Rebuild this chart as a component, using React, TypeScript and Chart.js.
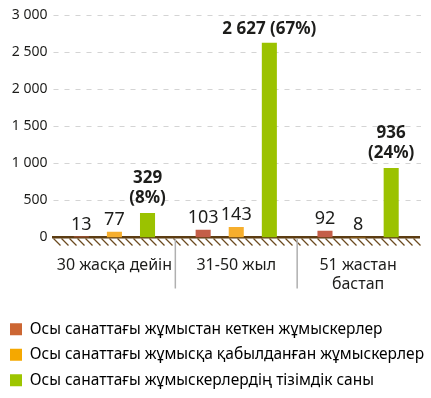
import React, { useEffect, useRef } from "react";
import { Chart, registerables } from "chart.js";

Chart.register(...registerables);

const categories: (string | string[])[] = ["30 жасқа дейін", "31-50 жыл", ["51 жастан", "бастап"]];
const seriesNames = [
  "Осы санаттағы жұмыстан кеткен жұмыскерлер",
  "Осы санаттағы жұмысқа қабылданған жұмыскерлер",
  "Осы санаттағы жұмыскерлердің тізімдік саны",
];
const leftValues = [13, 103, 92];
const hiredValues = [77, 143, 8];
const totalValues = [329, 2627, 936];
const totalShares = ["8%", "67%", "24%"];
const barColors = ["#c45e48", "#f6ae2d", "#9bc200"];
const legendColors = ["#cc6633", "#f5a800", "#9dc500"];
const yTicks = [0, 500, 1000, 1500, 2000, 2500, 3000];

const fmt = (v: number) => {
  const s = String(Math.round(v));
  return s.replace(/\B(?=(\d{3})+(?!\d))/g, " ");
};

const FONT = "'Noto Sans', 'Open Sans', sans-serif";
const TEXT = "#1d1d1b";

const decorPlugin = {
  id: "decor",
  beforeDatasetsDraw(chart: any) {
    const { ctx, chartArea, scales } = chart;
    const x = scales.x;
    const y = scales.y;
    const bottom = chartArea.bottom;
    ctx.save();
    // dashed horizontal grid
    ctx.strokeStyle = "#d4d4d4";
    ctx.lineWidth = 1.2;
    ctx.setLineDash([5, 6]);
    ctx.beginPath();
    yTicks.forEach((v) => {
      if (v === 0) return;
      const py = Math.round(y.getPixelForValue(v)) + 0.5;
      ctx.moveTo(chartArea.left, py);
      ctx.lineTo(chartArea.right + 2, py);
    });
    ctx.stroke();
    ctx.setLineDash([]);
    // hatch below the zero line
    ctx.strokeStyle = "#6b4a1f";
    ctx.lineWidth = 1.3;
    ctx.beginPath();
    for (let px = chartArea.left; px < chartArea.right + 2; px += 8) {
      ctx.moveTo(px, bottom + 1);
      ctx.lineTo(px + 7, bottom + 8);
    }
    ctx.stroke();
    // category dividers
    ctx.strokeStyle = "#b0b0b0";
    ctx.lineWidth = 1.5;
    ctx.beginPath();
    for (let i = 0; i < categories.length - 1; i++) {
      const mid = (x.getPixelForValue(i) + x.getPixelForValue(i + 1)) / 2;
      ctx.moveTo(mid, bottom + 1);
      ctx.lineTo(mid, bottom + 51);
    }
    ctx.stroke();
    ctx.restore();
  },
  afterDatasetsDraw(chart: any) {
    const { ctx } = chart;
    ctx.save();
    ctx.fillStyle = TEXT;
    ctx.textAlign = "center";
    ctx.textBaseline = "alphabetic";
    [0, 1].forEach((di) => {
      const meta = chart.getDatasetMeta(di);
      const data = chart.data.datasets[di].data as number[];
      meta.data.forEach((bar: any, i: number) => {
        ctx.font = `400 18px ${FONT}`;
        ctx.fillText(fmt(data[i]), bar.x, bar.y - 7);
      });
    });
    const meta = chart.getDatasetMeta(2);
    meta.data.forEach((bar: any, i: number) => {
      ctx.font = `700 17px ${FONT}`;
      const v = fmt(totalValues[i]);
      const p = `(${totalShares[i]})`;
      if (i === 1) {
        ctx.fillText(`${v} ${p}`, bar.x, bar.y - 9);
      } else {
        ctx.fillText(p, bar.x, bar.y - 10);
        ctx.fillText(v, bar.x, bar.y - 30);
      }
    });
    ctx.restore();
  },
};

export default function App() {
  const ref = useRef<HTMLCanvasElement>(null);
  useEffect(() => {
    const valuesList = [leftValues, hiredValues, totalValues];
    const chart = new Chart(ref.current!, {
      type: "bar",
      data: {
        labels: categories,
        datasets: valuesList.map((vals, i) => ({
          label: seriesNames[i],
          data: vals,
          backgroundColor: barColors[i],
          borderWidth: 0,
          categoryPercentage: 0.815,
          barPercentage: 0.455,
        })),
      },
      options: {
        animation: false,
        responsive: false,
        maintainAspectRatio: false,
        layout: { padding: { top: 15, right: 0, left: 0, bottom: 0 } },
        plugins: {
          tooltip: { enabled: false },
          legend: {
            position: "bottom",
            align: "start",
            labels: {
              boxWidth: 12,
              boxHeight: 12,
              padding: 10,
              color: TEXT,
              font: { family: FONT, size: 15.5 },
              generateLabels: () =>
                seriesNames.map((n, i) => ({
                  text: n,
                  fillStyle: legendColors[i],
                  strokeStyle: legendColors[i],
                  lineWidth: 0,
                  datasetIndex: i,
                  hidden: false,
                })),
            },
          },
        },
        scales: {
          x: {
            grid: { display: false, drawTicks: false },
            border: { display: true, color: "#5c3c12", width: 2.5 },
            ticks: {
              color: TEXT,
              padding: 19,
              font: { family: FONT, size: 16, lineHeight: 1.15 },
              maxRotation: 0,
              autoSkip: false,
            },
            afterFit: (s: any) => {
              s.height = 74;
            },
          },
          y: {
            min: 0,
            max: 3000,
            afterBuildTicks: (s: any) => {
              s.ticks = yTicks.map((v) => ({ value: v }));
            },
            grid: { display: false, drawTicks: false },
            border: { display: false },
            ticks: {
              color: TEXT,
              padding: 6,
              font: { family: FONT, size: 14 },
              callback: (v: any) => fmt(Number(v)),
            },
            afterFit: (s: any) => {
              s.width = 53.5;
            },
          },
          yRight: {
            position: "right",
            display: true,
            min: 0,
            max: 3000,
            grid: { display: false, drawTicks: false },
            border: { display: false },
            ticks: { display: false },
            afterFit: (s: any) => {
              s.width = 12;
            },
          },
        },
      },
      plugins: [decorPlugin],
    });
    return () => chart.destroy();
  }, []);
  return (
    <div style={{ position: "fixed", left: 0, top: 0, width: 431, height: 398, background: "#fff" }}>
      <canvas ref={ref} width={431} height={398} style={{ width: 431, height: 398 }} />
    </div>
  );
}
